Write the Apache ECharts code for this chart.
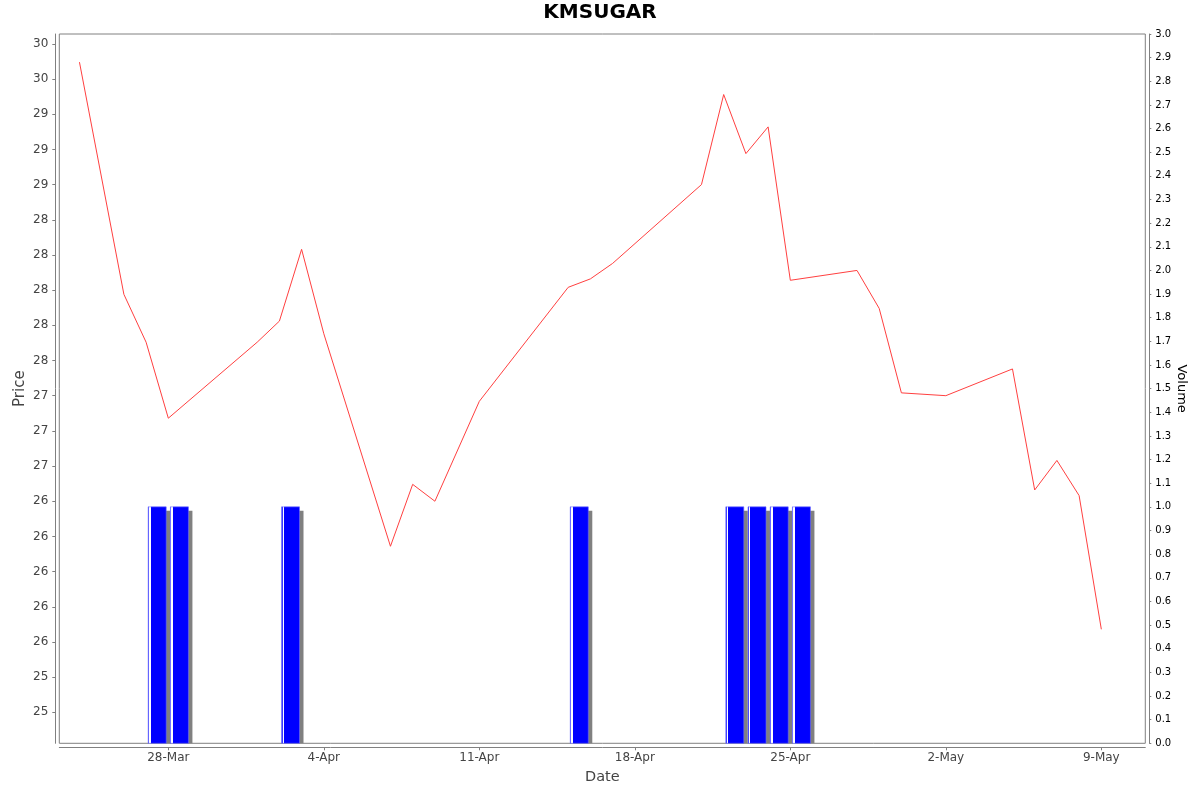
<!DOCTYPE html>
<html><head><meta charset="utf-8">
<script src="https://cdn.jsdelivr.net/npm/echarts@6/dist/echarts.min.js"></script>
<style>html,body{margin:0;padding:0;background:#fff}#chart{width:1200px;height:792px}</style>
</head><body><div id="chart"></div>
<script>
const chartTitle = 'KMSUGAR';
const priceDates = ['2025-03-24','2025-03-26','2025-03-27','2025-03-28','2025-04-01','2025-04-02','2025-04-03','2025-04-04','2025-04-07','2025-04-08','2025-04-09','2025-04-11','2025-04-15','2025-04-16','2025-04-17','2025-04-21','2025-04-22','2025-04-23','2025-04-24','2025-04-25','2025-04-28','2025-04-29','2025-04-30','2025-05-02','2025-05-05','2025-05-06','2025-05-07','2025-05-08','2025-05-09'];
const prices = [29.62,27.97,27.63,27.09,27.63,27.78,28.29,27.69,26.18,26.62,26.50,27.21,28.02,28.08,28.19,28.75,29.39,28.97,29.16,28.07,28.14,27.87,27.27,27.25,27.44,26.58,26.79,26.54,25.59];
const volumeDates = ['2025-03-27','2025-03-28','2025-04-02','2025-04-15','2025-04-22','2025-04-23','2025-04-24','2025-04-25'];
const volumes = [1,1,1,1,1,1,1,1];
const dateTicks = ['2025-03-28','2025-04-04','2025-04-11','2025-04-18','2025-04-25','2025-05-02','2025-05-09'];
const priceTicks = [25,25.25,25.5,25.75,26,26.25,26.5,26.75,27,27.25,27.5,27.75,28,28.25,28.5,28.75,29,29.25,29.5,29.75];
const monthNames = ['Jan','Feb','Mar','Apr','May','Jun','Jul','Aug','Sep','Oct','Nov','Dec'];

const DAY = 86400000;
const xMin = Date.parse('2025-03-23T02:13:00Z');
const xMax = Date.parse('2025-05-10T23:30:00Z');

function roundHalfEven(v) {
  const f = Math.floor(v);
  const d = v - f;
  if (Math.abs(d - 0.5) < 1e-9) return (f % 2 === 0) ? f : f + 1;
  return Math.round(v);
}

const chart = echarts.init(document.getElementById('chart'), null, {renderer: 'canvas'});
const FONT = 'DejaVu Sans';
const AXIS_GRAY = '#808080';
const LABEL_GRAY = '#444444';
const dateTickValues = dateTicks.map(d => Date.parse(d));
const BAR_W = 18;
const SHADOW = 4;

function barFill() {
  return new echarts.graphic.LinearGradient(0, 0, 1, 0, [
    {offset: 0, color: '#3a3aff'}, {offset: 0.07, color: '#3a3aff'},
    {offset: 0.07, color: '#ffffff'}, {offset: 0.14, color: '#ffffff'},
    {offset: 0.14, color: '#0000ff'}, {offset: 1, color: '#0000ff'}
  ]);
}

function renderVolumeBar(params, api) {
  const top = api.coord([api.value(0), api.value(1)]);
  const base = api.coord([api.value(0), 0]);
  const cs = params.coordSys;
  const h = base[1] - top[1];
  const clip = {x: cs.x, y: cs.y, width: cs.width, height: cs.height};
  const shadowRect = echarts.graphic.clipRectByRect(
    {x: top[0] - BAR_W / 2 + SHADOW, y: top[1] + SHADOW, width: BAR_W, height: h}, clip);
  const barRect = echarts.graphic.clipRectByRect(
    {x: top[0] - BAR_W / 2, y: top[1], width: BAR_W, height: h}, clip);
  const children = [];
  if (shadowRect) children.push({type: 'rect', shape: shadowRect, style: {fill: '#808080'}});
  if (barRect) children.push({type: 'rect', shape: barRect, style: {fill: barFill(), stroke: '#6a6aff', lineWidth: 0.6}});
  return {type: 'group', children: children};
}

const option = {
  animation: false,
  backgroundColor: '#ffffff',
  textStyle: {fontFamily: FONT},
  title: {
    text: chartTitle, left: 'center', top: 3, padding: 0,
    textStyle: {fontFamily: FONT, fontSize: 20, fontWeight: 'bold', color: '#000000'}
  },
  grid: {
    left: 59.3, right: 54.7, top: 34, bottom: 48.7,
    outerBoundsMode: 'none', containLabel: false,
    show: true, borderColor: AXIS_GRAY, borderWidth: 1, backgroundColor: '#ffffff'
  },
  xAxis: [{
    type: 'value', min: xMin, max: xMax, offset: 4,
    name: 'Date', nameLocation: 'middle', nameGap: 22,
    nameTextStyle: {fontFamily: FONT, fontSize: 14.5, color: LABEL_GRAY},
    axisLine: {onZero: false, lineStyle: {color: AXIS_GRAY, width: 1}},
    axisTick: {show: true, length: 3, lineStyle: {color: AXIS_GRAY}, customValues: dateTickValues},
    axisLabel: {
      fontFamily: FONT, fontSize: 12, color: LABEL_GRAY, margin: 5,
      customValues: dateTickValues,
      formatter: v => { const d = new Date(v); return d.getUTCDate() + '-' + monthNames[d.getUTCMonth()]; }
    },
    splitLine: {show: false}
  }, {
    type: 'value', min: xMin - DAY / 2, max: xMax - DAY / 2, show: false,
    splitLine: {show: false}
  }],
  yAxis: [{
    type: 'value', position: 'left', min: 24.78, max: 29.82, offset: 4,
    name: 'Price', nameLocation: 'middle', nameGap: 28, nameMoveOverlap: false,
    nameTextStyle: {fontFamily: FONT, fontSize: 15, color: LABEL_GRAY},
    axisLine: {show: true, lineStyle: {color: AXIS_GRAY, width: 1}},
    axisTick: {show: true, length: 3, lineStyle: {color: AXIS_GRAY}, customValues: priceTicks},
    axisLabel: {
      fontFamily: FONT, fontSize: 12, color: LABEL_GRAY, margin: 7,
      customValues: priceTicks,
      formatter: v => String(roundHalfEven(v))
    },
    splitLine: {show: false}
  }, {
    type: 'value', position: 'right', min: 0, max: 3, interval: 0.1, offset: 4,
    name: 'Volume', nameLocation: 'middle', nameGap: 26, nameRotate: -90, nameMoveOverlap: false,
    nameTextStyle: {fontFamily: FONT, fontSize: 13, color: '#000000'},
    axisLine: {show: true, lineStyle: {color: AXIS_GRAY, width: 1}},
    axisTick: {show: true, length: 2, lineStyle: {color: AXIS_GRAY}},
    axisLabel: {
      fontFamily: FONT, fontSize: 10, color: '#000000', margin: 6,
      formatter: v => v.toFixed(1)
    },
    splitLine: {show: false}
  }],
  series: [{
    type: 'custom', name: 'Volume', xAxisIndex: 1, yAxisIndex: 1, z: 1,
    data: volumeDates.map((d, i) => [Date.parse(d), volumes[i]]),
    renderItem: renderVolumeBar
  }, {
    type: 'line', name: 'Price', xAxisIndex: 0, yAxisIndex: 0, z: 2,
    showSymbol: false, symbol: 'none',
    data: priceDates.map((d, i) => [Date.parse(d), prices[i]]),
    lineStyle: {color: '#ff4040', width: 1}
  }]
};
chart.setOption(option);
</script>
</body></html>
